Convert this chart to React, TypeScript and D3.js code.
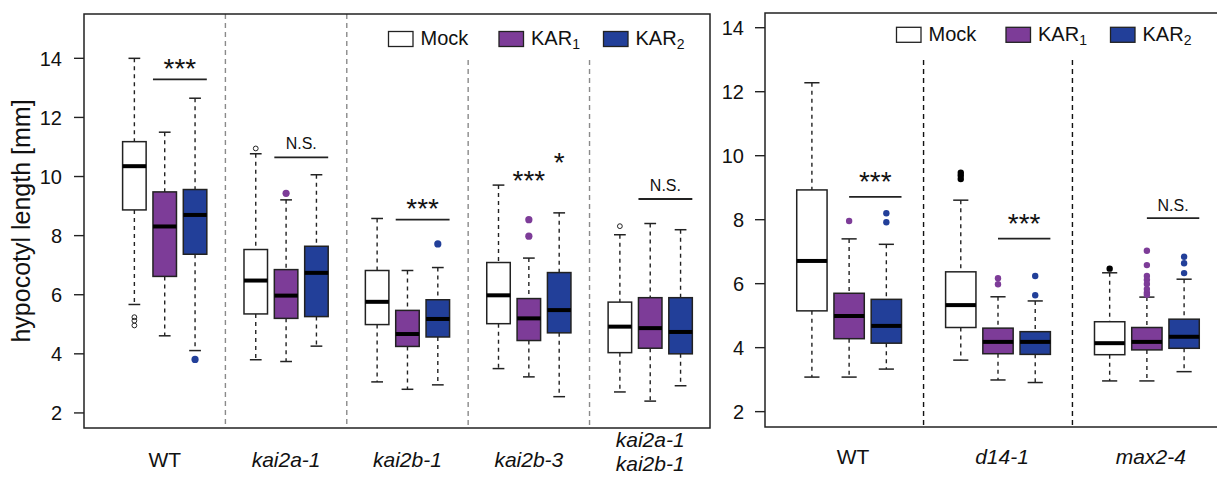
import React from 'react';
import * as d3 from 'd3';

// ---------- DATA ----------
const treatments = ['Mock', 'KAR1', 'KAR2'];
const treatmentColors = ['#ffffff', '#7d3c98', '#223f99'];

const leftGenotypes = ['WT', 'kai2a-1', 'kai2b-1', 'kai2b-3', 'kai2a-1|kai2b-1'];
const rightGenotypes = ['WT', 'd14-1', 'max2-4'];
const yTicks = [2, 4, 6, 8, 10, 12, 14];

// five-number summaries: [lower whisker, Q1, median, Q3, upper whisker]
const leftMock = [
  [5.67, 8.87, 10.35, 11.18, 14.0],
  [3.8, 5.35, 6.48, 7.53, 10.77],
  [3.05, 4.99, 5.76, 6.82, 8.58],
  [3.5, 5.02, 5.98, 7.09, 9.71],
  [2.71, 4.04, 4.92, 5.75, 8.03],
];
const leftKar1 = [
  [4.61, 6.62, 8.31, 9.48, 11.5],
  [3.74, 5.2, 5.97, 6.85, 9.21],
  [2.8, 4.25, 4.67, 5.47, 6.82],
  [3.22, 4.45, 5.2, 5.87, 7.24],
  [2.4, 4.19, 4.87, 5.9, 8.41],
];
const leftKar2 = [
  [4.11, 7.37, 8.7, 9.56, 12.65],
  [4.26, 5.26, 6.74, 7.64, 10.06],
  [2.95, 4.57, 5.18, 5.83, 6.92],
  [2.55, 4.71, 5.48, 6.75, 8.77],
  [2.92, 4.0, 4.74, 5.9, 8.2],
];
const leftMockOut = [[5.24, 5.12, 4.96], [10.95], [], [], [8.32]];
const leftKar1Out = [[], [9.43], [], [8.54, 7.98], []];
const leftKar2Out = [[3.81], [], [7.72], [], []];

const rightMock = [
  [3.08, 5.15, 6.71, 8.93, 12.28],
  [3.61, 4.63, 5.33, 6.37, 8.61],
  [2.96, 3.78, 4.14, 4.81, 6.34],
];
const rightKar1 = [
  [3.08, 4.28, 4.99, 5.7, 7.4],
  [2.99, 3.81, 4.18, 4.61, 5.59],
  [2.96, 3.93, 4.18, 4.63, 5.58],
];
const rightKar2 = [
  [3.33, 4.14, 4.68, 5.51, 7.23],
  [2.91, 3.79, 4.18, 4.5, 5.46],
  [3.25, 3.98, 4.34, 4.89, 6.14],
];
const rightMockOut = [[], [9.47, 9.38, 9.27], [6.47]];
const rightKar1Out = [[7.96], [6.17, 5.98], [7.03, 6.58, 6.24, 6.12, 5.99, 5.83, 5.72, 5.65]];
const rightKar2Out = [[8.2, 7.92], [6.24, 5.64], [6.84, 6.64, 6.33]];

// significance: [label, bar value (null = no bar)]
const leftSig = [['***', 13.29], ['N.S.', 10.65], ['***', 8.54], [null, null], ['N.S.', 9.24]];
const leftKb3Marks = [['***', 10.1, 1], ['*', 10.68, 2]]; // label, value (text centre), treatment index
const rightSig = [['***', 8.71], ['***', 7.41], ['N.S.', 8.05]];

// ---------- STYLE ----------
const FONT = "'Liberation Sans', Arial, Helvetica, sans-serif";
const STROKE = '#222';

type Panel = {
  x: d3.ScaleLinear<number, number>;
  y: d3.ScaleLinear<number, number>;
  boxW: number;
  stats: number[][][];
  outs: number[][][];
  outR: number[];
  mockOutFilled: boolean;
  dividerColor: string;
};

function groupPos(g: number, t: number) {
  return g * 4 + t + 1;
}

function Boxes({ p }: { p: Panel }) {
  const items: React.ReactNode[] = [];
  p.stats.forEach((series, t) => {
    series.forEach((s, g) => {
      const cx = p.x(groupPos(g, t));
      const half = (p.x(p.boxW) - p.x(0)) / 2;
      const [lo, q1, med, q3, hi] = s;
      const key = `${t}-${g}`;
      items.push(
        <g key={key}>
          <line x1={cx} x2={cx} y1={p.y(hi)} y2={p.y(q3)} stroke={STROKE} strokeWidth={1.4} strokeDasharray="4,4" />
          <line x1={cx} x2={cx} y1={p.y(q1)} y2={p.y(lo)} stroke={STROKE} strokeWidth={1.4} strokeDasharray="4,4" />
          <line x1={cx - half / 2} x2={cx + half / 2} y1={p.y(hi)} y2={p.y(hi)} stroke={STROKE} strokeWidth={1.5} />
          <line x1={cx - half / 2} x2={cx + half / 2} y1={p.y(lo)} y2={p.y(lo)} stroke={STROKE} strokeWidth={1.5} />
          <rect x={cx - half} y={p.y(q3)} width={half * 2} height={p.y(q1) - p.y(q3)} fill={treatmentColors[t]} stroke={STROKE} strokeWidth={1.5} />
          <line x1={cx - half} x2={cx + half} y1={p.y(med)} y2={p.y(med)} stroke="#000" strokeWidth={4} />
          {p.outs[t][g].map((v, i) => {
            const isMock = t === 0;
            const fill = isMock ? (p.mockOutFilled ? '#000' : 'none') : treatmentColors[t];
            return (
              <circle
                key={i}
                cx={cx}
                cy={p.y(v)}
                r={isMock && !p.mockOutFilled ? 2.4 : p.outR[t]}
                fill={fill}
                stroke={isMock ? '#222' : 'none'}
                strokeWidth={isMock && !p.mockOutFilled ? 1 : 0}
              />
            );
          })}
        </g>
      );
    });
  });
  return <g>{items}</g>;
}

function YAxis({ y, x0, labelX }: { y: d3.ScaleLinear<number, number>; x0: number; labelX: number }) {
  return (
    <g>
      {yTicks.map((t) => (
        <g key={t}>
          <line x1={x0 - 10} x2={x0} y1={y(t)} y2={y(t)} stroke={STROKE} strokeWidth={1.4} />
          <text x={labelX} y={y(t)} dy="0.36em" textAnchor="end" fontSize={20} fontFamily={FONT} fill="#111">
            {t}
          </text>
        </g>
      ))}
    </g>
  );
}

function Legend({ xs, yTop }: { xs: number[]; yTop: number }) {
  return (
    <g fontFamily={FONT} fill="#111">
      {treatments.map((t, i) => (
        <g key={t} transform={`translate(${xs[i]},${yTop})`}>
          <rect x={0} y={0} width={24.5} height={15} fill={treatmentColors[i]} stroke={STROKE} strokeWidth={1.3} />
          <text x={32} y={13.5} fontSize={20}>
            {t === 'Mock' ? (
              'Mock'
            ) : (
              <>
                <tspan>KAR</tspan>
                <tspan fontSize={14} dy={4}>
                  {t.slice(3)}
                </tspan>
              </>
            )}
          </text>
        </g>
      ))}
    </g>
  );
}

// text placed by its visual centre cy
function SigText({ x, cy, label }: { x: number; cy: number; label: string }) {
  const star = label.includes('*');
  const fs = star ? 28 : 16;
  const base = star ? cy + 0.57 * fs : cy + 0.36 * fs;
  return (
    <text x={x} y={base} textAnchor="middle" fontSize={fs} fontFamily={FONT} fill="#111">
      {label}
    </text>
  );
}

export default function App() {
  const W = 1217;
  const H = 477;

  // left panel
  const lx = d3.scaleLinear().domain([-0.66, 19.97]).range([84, 710]);
  const ly = d3.scaleLinear().domain([1.49, 15.5]).range([428, 14]);
  const left: Panel = {
    x: lx,
    y: ly,
    boxW: 0.775,
    stats: [leftMock, leftKar1, leftKar2],
    outs: [leftMockOut, leftKar1Out, leftKar2Out],
    outR: [2.4, 3.6, 3.6],
    mockOutFilled: false,
    dividerColor: '#8a8a8a',
  };

  // right panel
  const rx = d3.scaleLinear().domain([-0.26, 12.26]).range([765, 1231]);
  const ry = d3.scaleLinear().domain([1.52, 14.46]).range([427, 13]);
  const right: Panel = {
    x: rx,
    y: ry,
    boxW: 0.815,
    stats: [rightMock, rightKar1, rightKar2],
    outs: [rightMockOut, rightKar1Out, rightKar2Out],
    outR: [3.2, 3.2, 3.2],
    mockOutFilled: true,
    dividerColor: '#111',
  };

  const lHalf = (lx(left.boxW) - lx(0)) / 2;
  const rHalf = (rx(right.boxW) - rx(0)) / 2;

  return (
    <svg width={W} height={H} style={{ position: 'absolute', left: 0, top: 0, background: '#fff' }}>
      {/* Left panel */}
      <g>
        {leftGenotypes.slice(1).map((_, i) => {
          const xd = lx(groupPos(i + 1, -1));
          const top = i < 2 ? ly.range()[1] : 60;
          return (
            <line key={i} x1={xd} x2={xd} y1={top} y2={ly.range()[0]} stroke={left.dividerColor} strokeWidth={1.4} strokeDasharray="5,4" />
          );
        })}
        <Boxes p={left} />
        <rect x={84} y={14} width={710 - 84} height={428 - 14} fill="none" stroke={STROKE} strokeWidth={1.5} />
        <YAxis y={ly} x0={84} labelX={62} />
        <Legend xs={[388.5, 499, 603.5]} yTop={31.5} />
        {leftSig.map(([lab, v], g) => {
          if (lab == null) return null;
          const yb = ly(v as number);
          return (
            <g key={g}>
              <line x1={lx(groupPos(g, 1)) - lHalf} x2={lx(groupPos(g, 2)) + lHalf} y1={yb} y2={yb} stroke={STROKE} strokeWidth={1.8} />
              <SigText x={(lx(groupPos(g, 1)) + lx(groupPos(g, 2))) / 2} cy={yb - (lab === 'N.S.' ? 14 : 17.5)} label={lab as string} />
            </g>
          );
        })}
        {leftKb3Marks.map(([lab, v, t], i) => (
          <SigText key={i} x={lx(groupPos(3, t as number))} cy={ly(v as number)} label={lab as string} />
        ))}
        {leftGenotypes.map((g, i) => {
          const lines = g.split('|');
          const cx = lx(groupPos(i, 1));
          return (
            <text key={g} x={cx} textAnchor="middle" fontSize={21} fontFamily={FONT} fill="#111" fontStyle={g === 'WT' ? 'normal' : 'italic'}>
              {lines.length === 1 ? (
                <tspan x={cx} y={467}>{g}</tspan>
              ) : (
                lines.map((l, k) => (
                  <tspan key={k} x={cx} y={447 + k * 24}>
                    {l}
                  </tspan>
                ))
              )}
            </text>
          );
        })}
        <text transform={`translate(29.5,221) rotate(-90)`} textAnchor="middle" fontSize={25} fontFamily={FONT} fill="#111">
          hypocotyl length [mm]
        </text>
      </g>

      {/* Right panel */}
      <g>
        {rightGenotypes.slice(1).map((_, i) => {
          const xd = rx(groupPos(i + 1, -1));
          return <line key={i} x1={xd} x2={xd} y1={60} y2={ry.range()[0]} stroke={right.dividerColor} strokeWidth={1.4} strokeDasharray="5,4" />;
        })}
        <Boxes p={right} />
        <rect x={765} y={13} width={1231 - 765} height={427 - 13} fill="none" stroke={STROKE} strokeWidth={1.5} />
        <YAxis y={ry} x0={765} labelX={744} />
        <Legend xs={[896.5, 1006, 1110.5]} yTop={27.3} />
        {rightSig.map(([lab, v], g) => {
          const yb = ry(v as number);
          return (
            <g key={g}>
              <line x1={rx(groupPos(g, 1))} x2={rx(groupPos(g, 2)) + rHalf} y1={yb} y2={yb} stroke={STROKE} strokeWidth={1.8} />
              <SigText x={(rx(groupPos(g, 1)) + rx(groupPos(g, 2)) + rHalf) / 2} cy={yb - (lab === 'N.S.' ? 13 : 22)} label={lab as string} />
            </g>
          );
        })}
        {rightGenotypes.map((g, i) => (
          <text key={g} x={rx(groupPos(i, 1)) + 4} y={464} textAnchor="middle" fontSize={21} fontFamily={FONT} fill="#111" fontStyle={g === 'WT' ? 'normal' : 'italic'}>
            {g}
          </text>
        ))}
      </g>
    </svg>
  );
}
